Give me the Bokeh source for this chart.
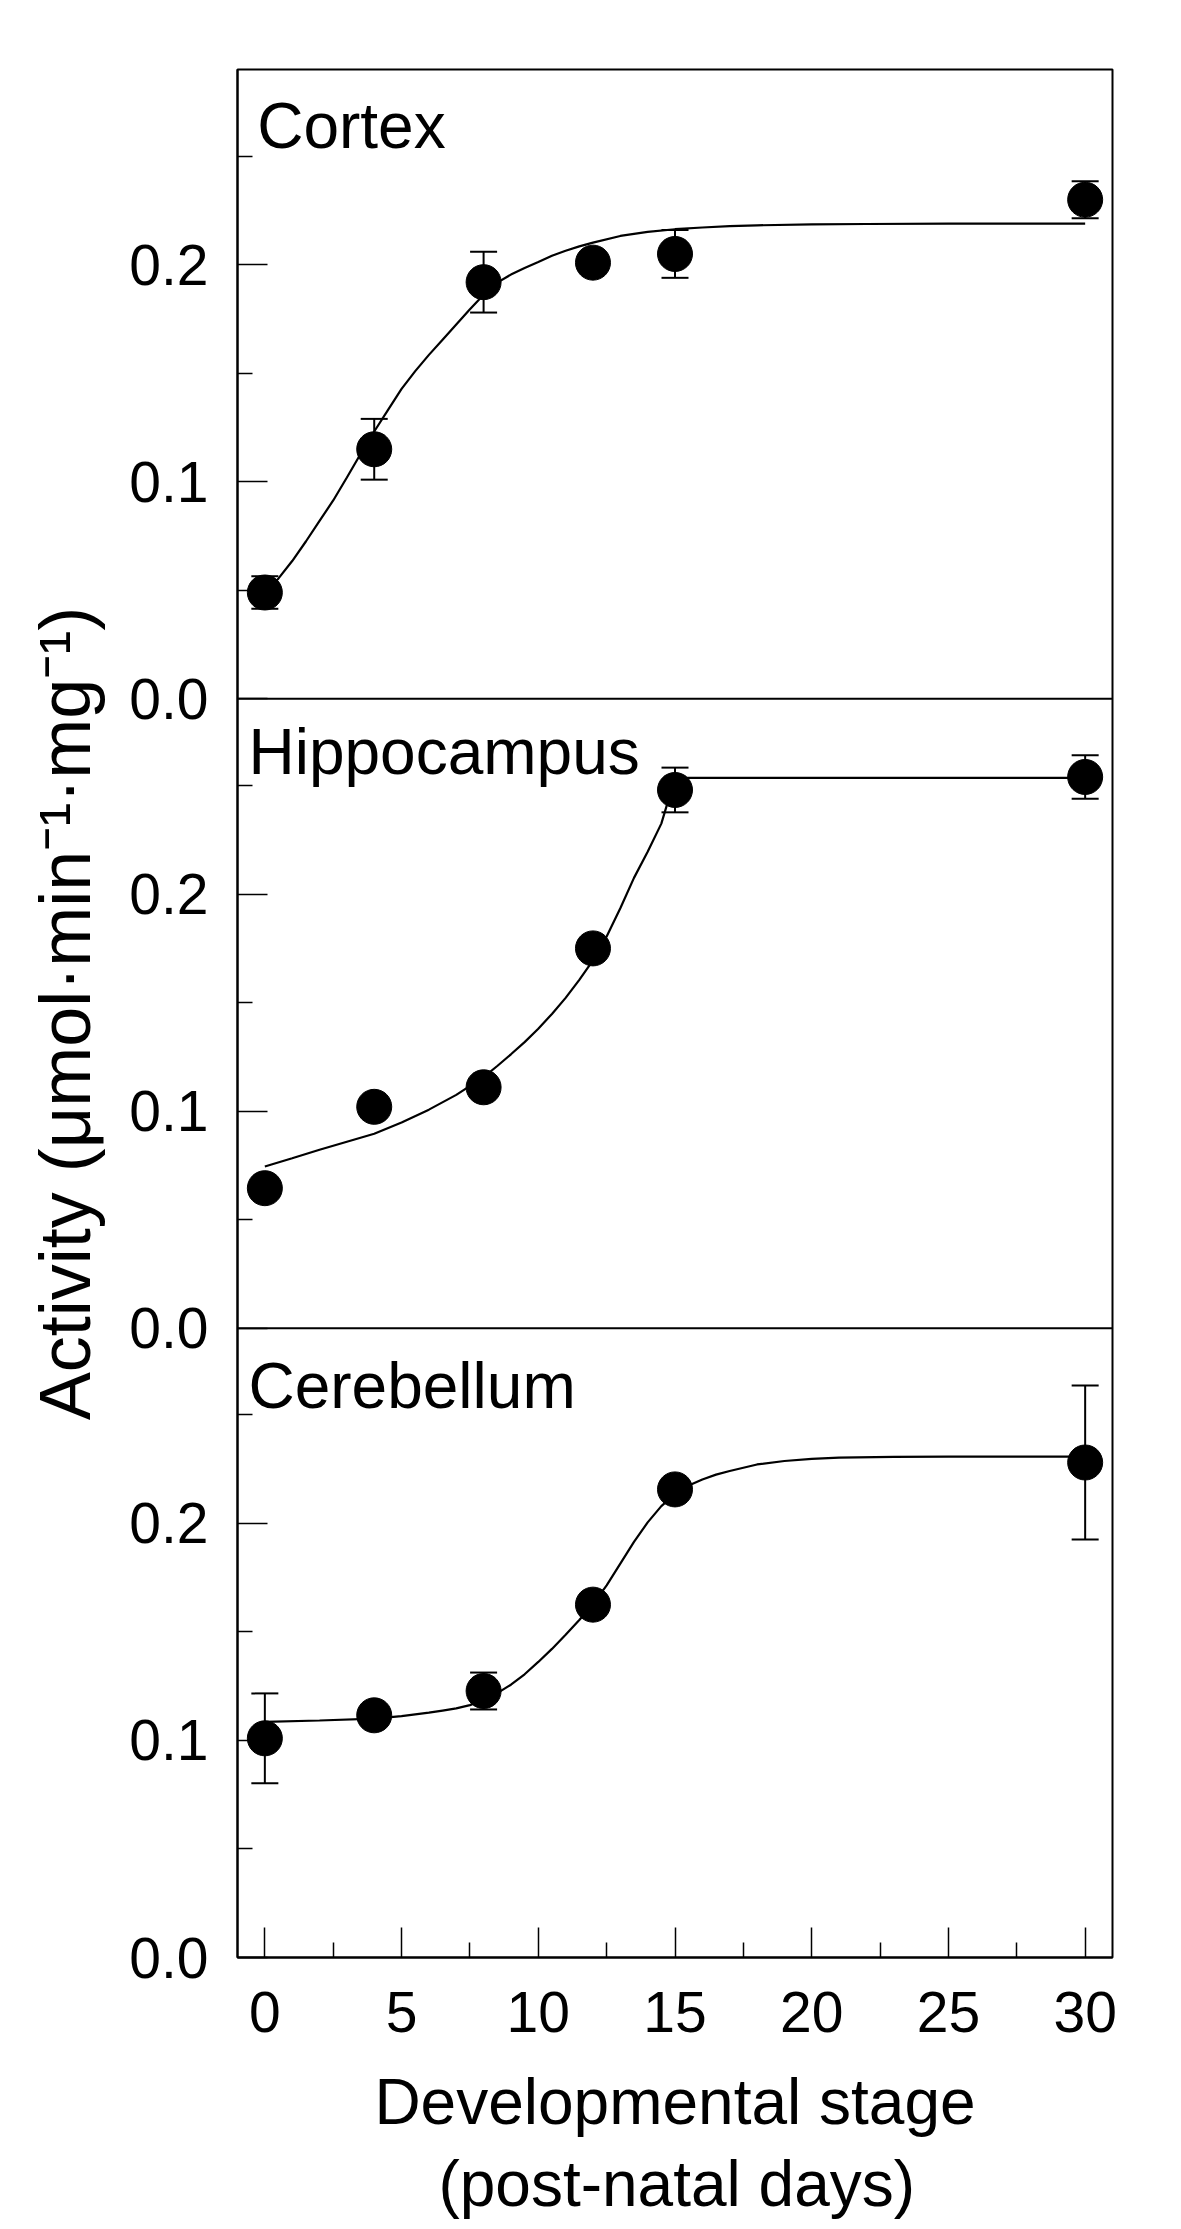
from bokeh.plotting import figure
from bokeh.models import (Range1d, LinearAxis, FixedTicker, Span, Label, Whisker,
                          TeeHead, ColumnDataSource, Title)
from bokeh.embed import file_html
from bokeh.resources import INLINE

# ---------------- data ----------------
days = [0, 4, 8, 12, 15, 30]

cortex_y = [0.049, 0.115, 0.192, 0.201, 0.205, 0.230]
cortex_err = [0.0075, 0.014, 0.014, 0.0, 0.011, 0.0085]
cortex_fit_x = [0, 0.5, 1, 1.5, 2, 2.5, 3, 3.5, 4, 4.5, 5, 5.5, 6, 6.5, 7, 7.5, 8, 8.5, 9, 9.5,
                10, 10.5, 11, 11.5, 12, 13, 14, 15, 16, 17, 18, 20, 22, 25, 30]
cortex_fit_y = [0.049, 0.0555, 0.0635, 0.0725, 0.082, 0.0914, 0.102, 0.1128, 0.1232, 0.133,
                0.1428, 0.151, 0.1585, 0.1655, 0.1725, 0.1795, 0.1862, 0.1918, 0.1955, 0.1985,
                0.2013, 0.2042, 0.2065, 0.2085, 0.2102, 0.2133, 0.2152, 0.2164, 0.2172, 0.2178,
                0.2182, 0.2186, 0.2188, 0.219, 0.219]

hippo_y = [0.0645, 0.102, 0.111, 0.175, 0.248, 0.254]
hippo_err = [0.0, 0.0, 0.0, 0.0, 0.0103, 0.010]
hippo_fit_x = [0, 1, 2, 3, 4, 5, 6, 7, 8, 8.5, 9, 9.5, 10, 10.5, 11, 11.5, 12, 12.5, 13, 13.5,
               14, 14.5, 15, 30]
hippo_fit_y = [0.0745, 0.0783, 0.0822, 0.0859, 0.0896, 0.0948, 0.1007, 0.1075, 0.1157, 0.1208,
               0.1262, 0.1318, 0.138, 0.1448, 0.1522, 0.1605, 0.1695, 0.1805, 0.1935, 0.2075,
               0.2195, 0.2325, 0.2536, 0.2536]

cereb_y = [0.101, 0.1116, 0.1228, 0.1626, 0.2157, 0.2281]
cereb_err = [0.0207, 0.0, 0.0085, 0.0, 0.0, 0.0355]
cereb_fit_x = [0, 2, 4, 5, 6, 6.5, 7, 7.5, 8, 8.5, 9, 9.5, 10, 10.5, 11, 11.5, 12, 12.5, 13,
               13.5, 14, 14.5, 15, 15.5, 16, 16.5, 17, 18, 19, 20, 21, 23, 25, 30]
cereb_fit_y = [0.1086, 0.1092, 0.1101, 0.1112, 0.1128, 0.1138, 0.1148, 0.1163, 0.1188, 0.1218,
               0.1257, 0.1305, 0.1362, 0.1422, 0.1487, 0.1555, 0.1628, 0.1715, 0.1815, 0.1915,
               0.2005, 0.208, 0.2135, 0.2175, 0.2203, 0.2225, 0.2242, 0.2272, 0.2288, 0.2298,
               0.2303, 0.2307, 0.2308, 0.2308]

panel_names = ["Cortex", "Hippocampus", "Cerebellum"]
x_ticks = [0, 5, 10, 15, 20, 25, 30]
x_minor = [2.5, 7.5, 12.5, 17.5, 22.5, 27.5]
y_ticks = [0.0, 0.1, 0.2]
y_tick_labels = ["0.0", "0.1", "0.2"]
y_minor = [0.05, 0.15, 0.25]
y_max = 0.29
y_title = "Activity (\u03bcmol\u00b7min\u207b\u00b9\u00b7mg\u207b\u00b9)"
# second line indented with en spaces so that both lines look centred
x_title = "Developmental stage\n\u2002\u2002(post-natal days)"

FONT = "Liberation Sans"

# ---------------- figure ----------------
p = figure(frame_width=875, frame_height=1888, x_range=Range1d(-1, 31),
           y_range=Range1d(0, 3 * y_max),
           x_axis_type=None, y_axis_type=None, output_backend="svg", toolbar_location=None,
           min_border_left=237, min_border_right=30, min_border_top=69, min_border_bottom=0)
p.background_fill_color = "white"
p.border_fill_color = "white"
p.outline_line_color = "black"
p.outline_line_width = 2

# each panel gets its own y range, stacked in one frame
p.extra_y_ranges = {
    "cortex": Range1d(-2 * y_max, y_max),
    "hippo": Range1d(-y_max, 2 * y_max),
}
range_names = ["cortex", "hippo", "default"]

# y axis (shared, labels repeated per panel)
ticks, minors, overrides = [], [], {}
for k in range(3):
    for t, lab in zip(y_ticks, y_tick_labels):
        v = k * y_max + t
        ticks.append(v)
        overrides[v] = lab
    for m in y_minor:
        minors.append(k * y_max + m)

yaxis = LinearAxis(ticker=FixedTicker(ticks=ticks, minor_ticks=minors),
                   major_label_overrides=overrides)
xaxis = LinearAxis(ticker=FixedTicker(ticks=x_ticks, minor_ticks=x_minor))
for ax in (xaxis, yaxis):
    ax.axis_line_color = "black"
    ax.axis_line_width = 2
    ax.major_tick_in = 30
    ax.major_tick_out = 0
    ax.minor_tick_in = 15
    ax.minor_tick_out = 0
    ax.major_tick_line_width = 1.5
    ax.minor_tick_line_width = 1.5
    ax.major_tick_line_color = "black"
    ax.minor_tick_line_color = "black"
    ax.major_label_text_font = FONT
    ax.major_label_text_font_size = "57px"
    ax.major_label_text_color = "black"
yaxis.major_label_standoff = 29
xaxis.major_label_standoff = 34
p.add_layout(yaxis, "left")
p.add_layout(xaxis, "below")

# axis titles
p.add_layout(Title(text=y_title, align="center", standoff=43, text_font=FONT,
                   text_font_size="72px", text_font_style="normal", text_color="black"), "left")
p.add_layout(Title(text=x_title, align="center", standoff=58, text_font=FONT,
                   text_font_size="64px", text_font_style="normal", text_color="black",
                   text_line_height=1.15), "below")

# panel dividers
for k in (1, 2):
    p.add_layout(Span(location=k * y_max, dimension="width", line_color="black", line_width=2))

panels = [
    (cortex_y, cortex_err, cortex_fit_x, cortex_fit_y),
    (hippo_y, hippo_err, hippo_fit_x, hippo_fit_y),
    (cereb_y, cereb_err, cereb_fit_x, cereb_fit_y),
]
title_pos = [(-0.28, 0.264), (-0.6, 0.2653), (-0.6, 0.2635)]

for (ys, errs, fx, fy), rname, name, (tx, ty) in zip(panels, range_names, panel_names, title_pos):
    p.line(fx, fy, line_color="black", line_width=2.2, y_range_name=rname)
    ex = [d for d, e in zip(days, errs) if e > 0]
    up = [y + e for y, e in zip(ys, errs) if e > 0]
    lo = [y - e for y, e in zip(ys, errs) if e > 0]
    src = ColumnDataSource(dict(x=ex, upper=up, lower=lo))
    p.add_layout(Whisker(source=src, base="x", upper="upper", lower="lower",
                         dimension="height", line_color="black", line_width=2,
                         upper_head=TeeHead(size=27, line_color="black", line_width=2),
                         lower_head=TeeHead(size=27, line_color="black", line_width=2),
                         y_range_name=rname))
    p.scatter(days, ys, size=35, marker="circle", fill_color="black", line_color="black",
              y_range_name=rname)
    p.add_layout(Label(x=tx, y=ty, text=name, text_font=FONT, text_font_size="64px",
                       text_color="black", text_baseline="alphabetic", text_align="left",
                       y_range_name=rname))

open("out.html", "w").write(file_html(p, INLINE))
